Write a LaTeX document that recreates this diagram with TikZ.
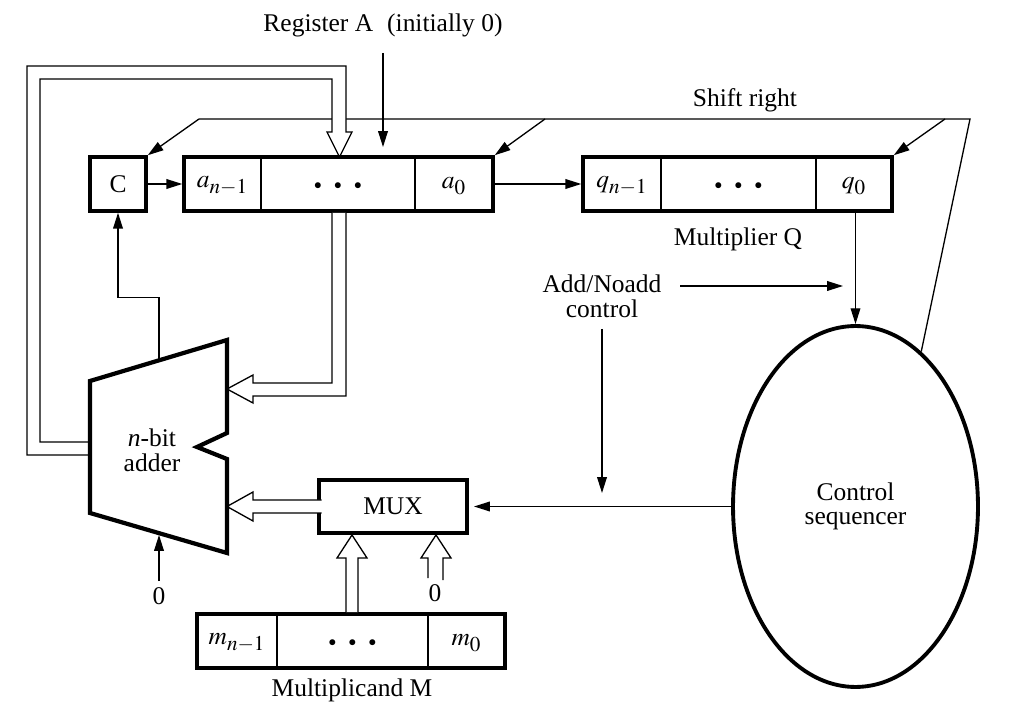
\documentclass[tikz,border=0pt]{standalone}
\usepackage{mathptmx}
\usepackage{fontspec}
\setmainfont{Liberation Serif}
\usetikzlibrary{arrows.meta,positioning,calc,shapes.geometric}
\DeclareMathSizes{14.5}{14.5}{12}{10}
\newcommand{\celldots}{\scalebox{0.6}{$\bullet$}\hspace{7pt}\scalebox{0.6}{$\bullet$}\hspace{7pt}\scalebox{0.6}{$\bullet$}}

\tikzset{
  regbox/.style={draw, line width=2pt, inner sep=0pt, minimum height=1.08cm},
  thinline/.style={line width=0.75pt},
  sig/.style={line width=0.75pt, -{Triangle[length=9pt,width=5.5pt]}},
  bus/.style={line width=0.75pt, fill=white, line join=miter},
}

\begin{document}
\begin{tikzpicture}[x=0.02cm, y=-0.02cm, every node/.style={font=\fontsize{14.5}{14}\selectfont}]
  \useasboundingbox (0,0) rectangle (1017,715);

  % registers and boxes
  \node[regbox, minimum width=1.12cm] (cbox) at (118,184) {C};
  \node[regbox, minimum width=6.18cm] (regA) at (338.5,184) {};
  \node[regbox, minimum width=6.18cm] (regQ) at (737.5,184) {};
  \node[regbox, minimum width=6.16cm] (regM) at (351,641) {};
  \node[regbox, minimum width=2.96cm, minimum height=1.06cm] (mux) at (393,506.5) {MUX};
  \node[draw, ellipse, line width=2.2pt, minimum width=4.9cm, minimum height=7.22cm, align=center] (ctrl) at (855.5,506.5) {Control\\sequencer};

  % cell dividers
  \draw[thinline] (261,157) -- (261,211) (415,157) -- (415,211);
  \draw[thinline] (661,157) -- (661,211) (816,157) -- (816,211);
  \draw[thinline] (277,614) -- (277,668) (428,614) -- (428,668);

  % cell contents
  \node (an) at (222.5,186) {$a_{n-1}$};
  \node (adots) at (338,186) {\celldots};
  \node (a0) at (454,186) {$a_0$};
  \node (qn) at (622,186) {$q_{n-1}$};
  \node (qdots) at (738.5,186) {\celldots};
  \node (q0) at (854,186) {$q_0$};
  \node (mn) at (237,643) {$m_{n-1}$};
  \node (mdots) at (352.5,643) {\celldots};
  \node (m0) at (466.5,643) {$m_0$};

  % labels
  \node (title) at (383,25) {Register A\hspace{8pt}(initially 0)};
  \node (shift) at (745,100) {Shift right};
  \node (mq) at (738,239) {Multiplier Q};
  \node (mm) at (352,690) {Multiplicand M};
  \node[align=center] (addno) at (602,296) {Add/Noadd\\control};
  \node[align=center] (adder) at (152,450) {\textit{n}-bit\\adder};
  \node (zadd) at (159,596) {0};
  \node (zmux) at (435,593) {0};

  % shift right lines
  \draw[thinline] (199,119) -- (970,119) -- (ctrl.67);
  \draw[sig] (199,119) -- (cbox.north east);
  \draw[sig] (545,119) -- (regA.north east);
  \draw[sig] (945,119) -- (regQ.north east);

  % control signals
  \draw[sig] (383,53) -- (383,147);
  \draw[sig] (cbox.east) -- (regA.west);
  \draw[sig] (regA.east) -- (regQ.west);
  \draw[sig] (ctrl.north |- regQ.south) -- (ctrl.north);
  \draw[sig] (680,286) -- (843,286);
  \draw[sig] (602,329) -- (602,493);
  \draw[sig, shorten >=3pt] (ctrl.west) -- (mux.east);
  \draw[sig] (159,360) |- ($(cbox.south)+(0,85)$) -- (cbox.south);
  \draw[sig] (zadd.north) -- (159,535);

  % wide buses
  \filldraw[bus] (90,442) -- (40,442) -- (40,79) -- (332,79) -- (332,132) -- (327,132) -- (339.5,157) -- (352,132) -- (346,132) -- (346,66) -- (27,66) -- (27,455) -- (90,455);
  \filldraw[bus] (332,213) -- (332,383) -- (253,383) -- (253,375) -- (227,389) -- (253,403) -- (253,396) -- (346,396) -- (346,213);
  \filldraw[bus] (321.5,500) -- (253,500) -- (253,492) -- (227,506.5) -- (253,521) -- (253,513) -- (321.5,513);
  \filldraw[bus] (346,612) -- (346,558) -- (337,558) -- (352,535) -- (367,558) -- (358,558) -- (358,612);
  \filldraw[bus] (428,578) -- (428,558) -- (421,558) -- (436,535) -- (451,558) -- (443,558) -- (443,580);

  % adder
  \draw[line width=2.4pt, line join=miter] (90,381) -- (227,340) -- (227,433) -- (197,447) -- (227,459) -- (227,553) -- (90,513) -- cycle;
\end{tikzpicture}
\end{document}
